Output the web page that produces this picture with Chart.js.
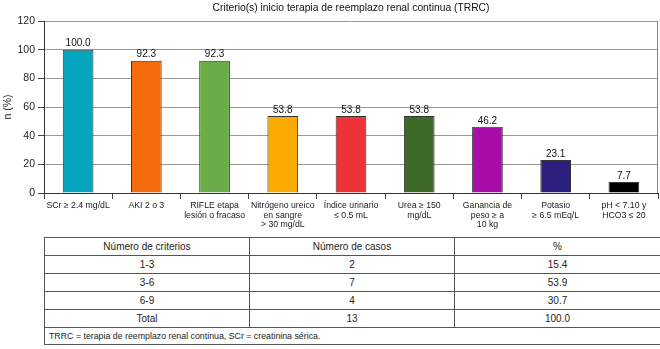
<!DOCTYPE html>
<html>
<head>
<meta charset="utf-8">
<script src="https://cdn.jsdelivr.net/npm/chart.js@4"></script>
<style>
  body { margin: 0; background: #fff; font-family: "Liberation Sans", Arial, sans-serif; }
  #wrap { position: relative; width: 660px; height: 349px; }
  #chart-box { position: absolute; left: 0; top: 0; width: 660px; height: 234px; }
  #tabla { position: absolute; left: 44px; top: 237px; width: 616px; border-collapse: collapse; table-layout: fixed; font-size: 10px; color: #222; }
  #tabla td { border: 1px solid #555; height: 17px; padding: 0; text-align: center; }
  #tabla td.nota { text-align: left; padding-left: 4px; font-size: 8.8px; height: 16px; }
</style>
</head>
<body>
<div id="wrap">
  <div id="chart-box"><canvas id="chart"></canvas></div>
  <table id="tabla"></table>
</div>
<script>
// criterios
var categorias = [
  "SCr \u2265 2.4 mg/dL",
  "AKI 2 o 3",
  ["RIFLE etapa", "lesi\u00f3n o fracaso"],
  ["Nitr\u00f3geno ureico", "en sangre", "> 30 mg/dL"],
  ["\u00cdndice urinario", "\u2264 0.5 mL"],
  ["Urea \u2265 150", "mg/dL"],
  ["Ganancia de", "peso \u2265 a", "10 kg"],
  ["Potasio", "\u2265 6.5 mEq/L"],
  ["pH < 7.10 y", "HCO3 \u2264 20"]
];
var porcentajes = [100.0, 92.3, 92.3, 53.8, 53.8, 53.8, 46.2, 23.1, 7.7];
var colores = ["#05a4bf", "#f46a0c", "#6aac47", "#fcaa02", "#ef333b", "#3e6a28", "#a90ca8", "#2b207e", "#000000"];

// tabla
var encabezados = ["N\u00famero de criterios", "N\u00famero de casos", "%"];
var rangos = ["1-3", "3-6", "6-9", "Total"];
var casos = ["2", "7", "4", "13"];
var pctCasos = ["15.4", "53.9", "30.7", "100.0"];
var nota = "TRRC = terapia de reemplazo renal continua, SCr = creatinina s\u00e9rica.";

var titulo = "Criterio(s) inicio terapia de reemplazo renal continua (TRRC)";
var fuente = '"Liberation Sans", Arial, sans-serif';

// build table
var html = '<colgroup><col style="width:205px"><col style="width:205px"><col style="width:206px"></colgroup>';
html += "<tr><td>" + encabezados.join("</td><td>") + "</td></tr>";
for (var i = 0; i < rangos.length; i++) {
  html += "<tr><td>" + rangos[i] + "</td><td>" + casos[i] + "</td><td>" + pctCasos[i] + "</td></tr>";
}
html += '<tr><td class="nota" colspan="3">' + nota + "</td></tr>";
document.getElementById("tabla").innerHTML = html;

var extras = {
  id: "extras",
  afterDatasetsDraw: function (chart) {
    var ctx = chart.ctx;
    var area = chart.chartArea;
    ctx.save();
    // right border of plot
    ctx.strokeStyle = "#888";
    ctx.lineWidth = 1;
    ctx.beginPath();
    ctx.moveTo(Math.round(area.right) - 0.5, area.top);
    ctx.lineTo(Math.round(area.right) - 0.5, area.bottom);
    ctx.stroke();
    // value labels
    ctx.fillStyle = "#111";
    ctx.font = "10px " + fuente;
    ctx.textAlign = "center";
    ctx.textBaseline = "bottom";
    chart.getDatasetMeta(0).data.forEach(function (bar, i) {
      ctx.fillText(porcentajes[i].toFixed(1), bar.x, bar.y - 1);
    });
    // title centered over plot
    ctx.font = "10.3px " + fuente;
    ctx.textBaseline = "middle";
    ctx.fillText(titulo, (area.left + area.right) / 2, 8);
    ctx.restore();
  }
};

var ctx = document.getElementById("chart").getContext("2d");
var chart = new Chart(ctx, {
  type: "bar",
  data: {
    labels: categorias,
    datasets: [{
      data: porcentajes,
      backgroundColor: colores,
      borderColor: "#333",
      borderWidth: 1,
      barPercentage: 0.45,
      categoryPercentage: 1
    }]
  },
  options: {
    responsive: true,
    maintainAspectRatio: false,
    animation: false,
    layout: { padding: { top: 21, right: 2, left: 0, bottom: 0 } },
    plugins: { legend: { display: false }, tooltip: { enabled: false } },
    scales: {
      x: {
        grid: { display: true, drawOnChartArea: false, offset: true, tickLength: 6, color: "#444" },
        border: { color: "#333" },
        ticks: { color: "#222", font: { family: fuente, size: 8.7, lineHeight: 1.1 }, padding: 2, maxRotation: 0, autoSkip: false },
        afterFit: function (scale) { scale.height = 41; }
      },
      y: {
        min: 0,
        max: 120,
        ticks: { stepSize: 20, color: "#222", font: { family: fuente, size: 10.5 }, padding: 3 },
        grid: { color: "#999", tickLength: 6, tickColor: "#444" },
        border: { color: "#333" },
        title: { display: true, text: "n (%)", color: "#222", font: { family: fuente, size: 10.5 }, padding: { top: 2, bottom: 0 } },
        afterFit: function (scale) { scale.width = 44; }
      }
    }
  },
  plugins: [extras]
});
</script>
</body>
</html>
